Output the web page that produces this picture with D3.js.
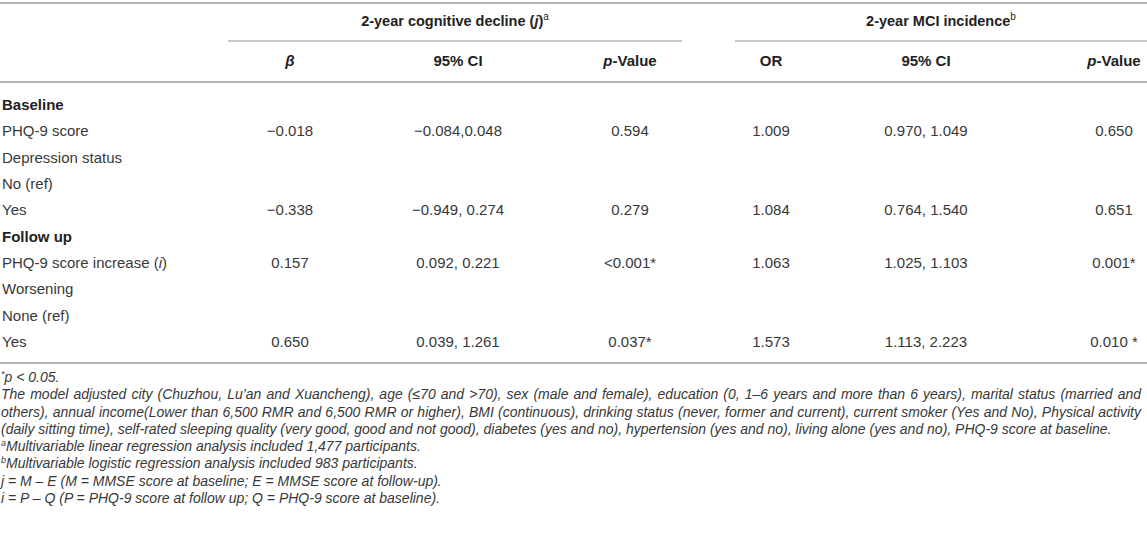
<!DOCTYPE html>
<html>
  <head>
    <meta charset="utf-8">
    <title>Table</title>
    <script src="https://cdn.jsdelivr.net/npm/d3@7/dist/d3.min.js"></script>
    <style type="text/css">
      body { margin: 0; background: #fff; }
      text { font-family: "Liberation Sans", Arial, sans-serif; }
    </style>
  </head>
  <body>
    <script>
    //Width and height
    var svgWidth = 1147;
    var svgHeight = 533;

    //Row labels and section rows
    var rowLabels = ["Baseline", "PHQ-9 score", "Depression status", "No (ref)", "Yes",
                     "Follow up", "PHQ-9 score increase (i)", "Worsening", "None (ref)", "Yes"];
    var sectionRows = ["Baseline", "Follow up"];

    //Column headers
    var colKeys = ["beta", "ci1", "p1", "or", "ci2", "p2"];
    var colHeaders = ["β", "95% CI", "p-Value", "OR", "95% CI", "p-Value"];
    var groupHeaders = ["2-year cognitive decline (j)", "2-year MCI incidence"];
    var groupMarks = ["a", "b"];

    //Values per column, one entry per row ("" = empty cell)
    var betaVals = ["", "\u22120.018", "", "", "\u22120.338", "", "0.157", "", "", "0.650"];
    var ci1Vals  = ["", "\u22120.084,0.048", "", "", "\u22120.949, 0.274", "", "0.092, 0.221", "", "", "0.039, 1.261"];
    var p1Vals   = ["", "0.594", "", "", "0.279", "", "<0.001*", "", "", "0.037*"];
    var orVals   = ["", "1.009", "", "", "1.084", "", "1.063", "", "", "1.573"];
    var ci2Vals  = ["", "0.970, 1.049", "", "", "0.764, 1.540", "", "1.025, 1.103", "", "", "1.113, 2.223"];
    var p2Vals   = ["", "0.650", "", "", "0.651", "", "0.001*", "", "", "0.010 *"];

    //Footnotes
    var footnotes = [
      "The model adjusted city (Chuzhou, Lu\u2019an and Xuancheng), age (\u226470 and >70), sex (male and female), education (0, 1\u20136 years and more than 6 years), marital status (married and",
      "others), annual income(Lower than 6,500 RMR and 6,500 RMR or higher), BMI (continuous), drinking status (never, former and current), current smoker (Yes and No), Physical activity",
      "(daily sitting time), self-rated sleeping quality (very good, good and not good), diabetes (yes and no), hypertension (yes and no), living alone (yes and no), PHQ-9 score at baseline."
    ];
    var noteA = "Multivariable linear regression analysis included 1,477 participants.";
    var noteB = "Multivariable logistic regression analysis included 983 participants.";
    var noteJ = "j = M \u2013 E (M = MMSE score at baseline; E = MMSE score at follow-up).";
    var noteI = "i = P \u2013 Q (P = PHQ-9 score at follow up; Q = PHQ-9 score at baseline).";

    var columns = {beta: betaVals, ci1: ci1Vals, p1: p1Vals, or: orVals, ci2: ci2Vals, p2: p2Vals};

    //Scales
    var yScale = d3.scalePoint()
      .domain(d3.range(rowLabels.length))
      .range([105, 342]);

    var xScale = d3.scaleOrdinal()
      .domain(colKeys)
      .range([290, 458, 630, 771, 926, 1114]);

    var textColor = "#383838";
    var headColor = "#222";
    var ruleColor = "#b4b4b4";
    var fontSize = 15;

    //Create SVG element
    var svg = d3.select("body")
      .append("svg")
        .attr("width", svgWidth)
        .attr("height", svgHeight);

    //Rules
    var rules = [
      {x1: 0, x2: svgWidth, y: 3, w: 2},
      {x1: 228, x2: 682, y: 41, w: 1.5},
      {x1: 735, x2: svgWidth, y: 41, w: 1.5},
      {x1: 0, x2: svgWidth, y: 82, w: 2},
      {x1: 0, x2: svgWidth, y: 363, w: 2}
    ];
    svg.selectAll("line.rule")
      .data(rules)
      .enter()
      .append("line")
      .attr("class", "rule")
      .attr("x1", function(d){ return d.x1; })
      .attr("x2", function(d){ return d.x2; })
      .attr("y1", function(d){ return d.y; })
      .attr("y2", function(d){ return d.y; })
      .attr("stroke", ruleColor)
      .attr("stroke-width", function(d){ return d.w; });

    //Group headers
    var groupX = [455, 941];
    var gh = svg.selectAll("text.group")
      .data(groupHeaders)
      .enter()
      .append("text")
      .attr("class", "group")
      .attr("x", function(d, i){ return groupX[i]; })
      .attr("y", 26)
      .attr("text-anchor", "middle")
      .attr("font-size", 14.5)
      .attr("font-weight", "bold")
      .attr("fill", headColor);
    gh.each(function(d, i){
      var t = d3.select(this);
      if (i === 0) {
        t.append("tspan").text("2-year cognitive decline (");
        t.append("tspan").attr("font-style", "italic").text("j");
        t.append("tspan").text(")");
      } else {
        t.append("tspan").text(d);
      }
      t.append("tspan").attr("font-size", 10).attr("font-weight", "normal")
        .attr("dy", -6).text(groupMarks[i]);
    });

    //Column headers
    var ch = svg.selectAll("text.colhead")
      .data(colKeys)
      .enter()
      .append("text")
      .attr("class", "colhead")
      .attr("x", function(d){ return xScale(d); })
      .attr("y", 66)
      .attr("text-anchor", "middle")
      .attr("font-size", fontSize)
      .attr("font-weight", "bold")
      .attr("fill", headColor);
    ch.each(function(d, i){
      var t = d3.select(this);
      var label = colHeaders[i];
      if (label === "β") {
        t.append("tspan").attr("font-style", "italic").text(label);
      } else if (label === "p-Value") {
        t.append("tspan").attr("font-style", "italic").text("p");
        t.append("tspan").text("-Value");
      } else {
        t.text(label);
      }
    });

    //Row labels
    var rl = svg.selectAll("text.rowlabel")
      .data(rowLabels)
      .enter()
      .append("text")
      .attr("class", "rowlabel")
      .attr("x", 2)
      .attr("y", function(d, i){ return yScale(i) + 5; })
      .attr("font-size", fontSize)
      .attr("font-weight", function(d){ return sectionRows.indexOf(d) >= 0 ? "bold" : "normal"; })
      .attr("fill", function(d){ return sectionRows.indexOf(d) >= 0 ? headColor : textColor; });
    rl.each(function(d){
      var t = d3.select(this);
      if (d === "PHQ-9 score increase (i)") {
        t.append("tspan").text("PHQ-9 score increase (");
        t.append("tspan").attr("font-style", "italic").text("i");
        t.append("tspan").text(")");
      } else {
        t.text(d);
      }
    });

    //Cells
    var cells = [];
    colKeys.forEach(function(k){
      columns[k].forEach(function(v, i){
        if (v !== "") cells.push({col: k, row: i, value: v});
      });
    });
    svg.selectAll("text.cell")
      .data(cells)
      .enter()
      .append("text")
      .attr("class", "cell")
      .attr("x", function(d){ return xScale(d.col); })
      .attr("y", function(d){ return yScale(d.row) + 5; })
      .attr("text-anchor", "middle")
      .attr("font-size", fontSize)
      .attr("fill", textColor)
      .text(function(d){ return d.value; });

    //Footnotes
    var noteSize = 14;
    var lineWidth = 1140;
    var noteY = d3.scalePoint().domain(d3.range(8)).range([382, 503]);
    var notes = svg.append("g")
      .attr("font-size", noteSize)
      .attr("font-style", "italic")
      .attr("fill", textColor);

    var n0 = notes.append("text").attr("x", 1).attr("y", noteY(0));
    n0.append("tspan").attr("font-size", 9).attr("dy", -5).text("*");
    n0.append("tspan").attr("dy", 5).text("p < 0.05.");

    var paraLines = notes.selectAll("text.para")
      .data(footnotes)
      .enter()
      .append("text")
      .attr("class", "para")
      .attr("x", 1)
      .attr("y", function(d, i){ return noteY(i + 1); })
      .text(function(d){ return d; });

    //shrink so the widest line fits, then justify the first two lines
    var widest = d3.max(paraLines.nodes(), function(n){ return n.getComputedTextLength(); });
    if (widest > lineWidth) {
      noteSize = noteSize * lineWidth / widest;
      notes.attr("font-size", noteSize);
    }
    paraLines.each(function(d, i){
      if (i === footnotes.length - 1) return;
      var len = this.getComputedTextLength();
      var spaces = d.split(" ").length - 1;
      d3.select(this).attr("word-spacing", (lineWidth - len) / spaces);
    });

    [["a", noteA], ["b", noteB]].forEach(function(n, i){
      var t = notes.append("text").attr("x", 1).attr("y", noteY(4 + i));
      t.append("tspan").attr("font-size", 9).attr("dy", -5).text(n[0]);
      t.append("tspan").attr("dy", 5).text(n[1]);
    });
    notes.append("text").attr("x", 1).attr("y", noteY(6)).text(noteJ);
    notes.append("text").attr("x", 1).attr("y", noteY(7)).text(noteI);
    </script>
  </body>
</html>
